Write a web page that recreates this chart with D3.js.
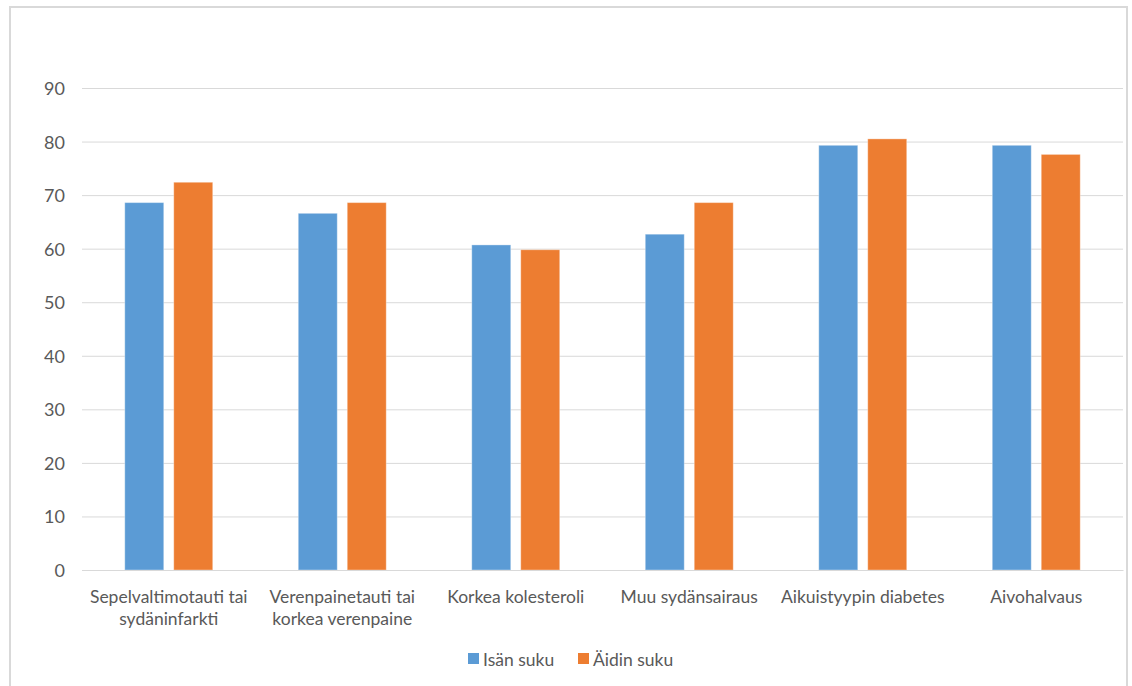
<!DOCTYPE html>
<html><head><meta charset="utf-8">
<script src="https://cdn.jsdelivr.net/npm/d3@7"></script>
<style>
body{margin:0;background:#fff;}
svg{display:block;font-family:Lato,"Open Sans",sans-serif;}
</style></head>
<body><svg id="c" width="1132" height="686"></svg>
<script>
const categories = ["Sepelvaltimotauti tai\nsydäninfarkti","Verenpainetauti tai\nkorkea verenpaine","Korkea kolesteroli","Muu sydänsairaus","Aikuistyypin diabetes","Aivohalvaus"];
const seriesNames = ["Isän suku","Äidin suku"];
const isanSuku = [68.6, 66.6, 60.7, 62.7, 79.3, 79.3];
const aidinSuku = [72.4, 68.6, 59.8, 68.6, 80.5, 77.6];
const yTicks = [0,10,20,30,40,50,60,70,80,90];
const colors = ["#5b9bd5","#ed7d31"];

const svg = d3.select("#c");
svg.append("rect").attr("x",10).attr("y",7).attr("width",1117).attr("height",690)
  .attr("fill","#fff").attr("stroke","#d9d9d9").attr("stroke-width",2);

const pL=82,pR=1123,pT=88,pB=570;
const fontSize = "17.5px";
const y = d3.scaleLinear().domain([0,90]).range([pB,pT]);
const x0 = d3.scaleBand().domain(categories).range([pL,pR]).paddingInner(0.493).paddingOuter(0.2465);
const x1 = d3.scaleBand().domain(seriesNames).range([0,x0.bandwidth()]).paddingInner(0.204);

// grid
const gy = svg.append("g").attr("transform",`translate(${pL},0)`)
  .call(d3.axisLeft(y).tickValues(yTicks).tickSize(-(pR-pL)).tickPadding(17));
gy.select(".domain").remove();
gy.selectAll(".tick line").attr("stroke","#d9d9d9").attr("stroke-width",1);
gy.selectAll(".tick text").attr("fill","#595959").attr("dy","0.36em").style("font-size","18px").style("font-family","Lato,'Open Sans',sans-serif");

// bars
const data = categories.map((c,i)=>({c, vals:[isanSuku[i],aidinSuku[i]]}));
const groups = svg.append("g").selectAll("g").data(data).join("g")
  .attr("transform",d=>`translate(${x0(d.c)},0)`);
groups.selectAll("rect").data(d=>d.vals.map((v,j)=>({s:seriesNames[j],v,j}))).join("rect")
  .attr("x",d=>x1(d.s)).attr("width",x1.bandwidth())
  .attr("y",d=>y(d.v)).attr("height",d=>y(0)-y(d.v))
  .attr("fill",d=>colors[d.j]).attr("stroke","#ffffff").attr("stroke-opacity",0.35).attr("stroke-width",1);

// x axis
const gx = svg.append("g").attr("transform",`translate(0,${pB})`)
  .call(d3.axisBottom(x0).tickSize(0).tickPadding(0));
gx.select(".domain").attr("stroke","#d9d9d9");
gx.selectAll(".tick text").each(function(d){
  const t = d3.select(this); t.text(null);
  d.split("\n").forEach((line,k)=>{
    t.append("tspan").attr("x",0).attr("y",32.5+k*22.5).text(line);
  });
}).attr("fill","#595959").style("font-size",fontSize).style("font-family","Lato,'Open Sans',sans-serif");
gx.selectAll(".tick text").attr("dy",null);

// legend
const lg = svg.append("g");
const legendX = [468,578];
seriesNames.forEach((s,i)=>{
  lg.append("rect").attr("x",legendX[i]).attr("y",653).attr("width",11).attr("height",11).attr("fill",colors[i]);
  lg.append("text").attr("x",legendX[i]+15).attr("y",665.5).text(s)
    .attr("fill","#595959").style("font-size",fontSize);
});
</script></body></html>
